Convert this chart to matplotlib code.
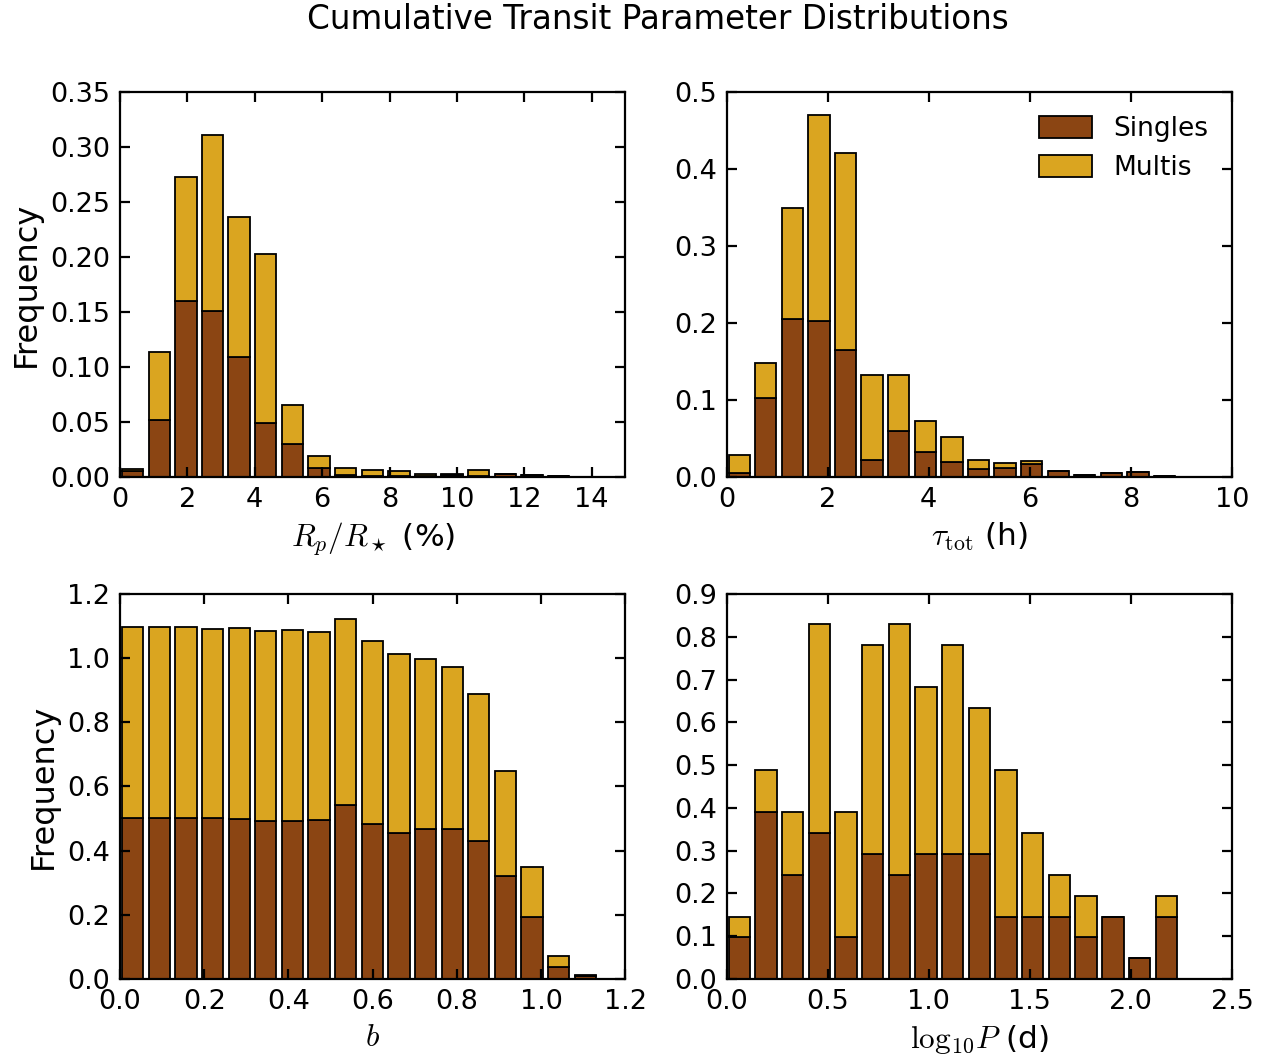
import numpy as np
import matplotlib
matplotlib.use('Agg')
import matplotlib.pyplot as plt

plt.rcParams.update({
    'font.family': 'DejaVu Sans',
    'mathtext.fontset': 'cm',
    'font.size': 19,
    'axes.linewidth': 1.6,
    'xtick.direction': 'in', 'ytick.direction': 'in',
    'xtick.top': True, 'ytick.right': True,
    'xtick.major.size': 7, 'ytick.major.size': 7,
    'xtick.major.width': 1.6, 'ytick.major.width': 1.6,
    'xtick.major.pad': 7, 'ytick.major.pad': 7,
    'xtick.labelsize': 19.5, 'ytick.labelsize': 19.5,
})

SINGLE_C = '#8B4513'
MULTI_C = '#DAA520'

# planet-to-star radius ratio (%) -- stacked frequencies per bin
rp_singles = [0.005, 0.052, 0.160, 0.151, 0.109, 0.049, 0.030, 0.0085, 0.002,
              0.001, 0.001, 0.001, 0.002, 0.001, 0.003, 0.0015, 0.0005]
rp_total = [0.007, 0.114, 0.273, 0.311, 0.236, 0.203, 0.065, 0.019, 0.008,
            0.006, 0.0055, 0.003, 0.0025, 0.0067, 0.003, 0.0015, 0.0005]

# total transit duration (h)
tau_singles = [0.005, 0.103, 0.205, 0.203, 0.165, 0.022, 0.060, 0.0325, 0.0195,
               0.0108, 0.012, 0.0165, 0.0075, 0.0026, 0.0048, 0.0065, 0.0017]
tau_total = [0.029, 0.148, 0.349, 0.470, 0.421, 0.132, 0.132, 0.073, 0.052,
             0.022, 0.018, 0.021, 0.0078, 0.0026, 0.0048, 0.0069, 0.0017]

# impact parameter
b_singles = [0.502, 0.503, 0.503, 0.502, 0.500, 0.494, 0.494, 0.496, 0.541,
             0.482, 0.455, 0.469, 0.469, 0.430, 0.322, 0.193, 0.038, 0.010]
b_total = [1.098, 1.096, 1.096, 1.091, 1.094, 1.085, 1.087, 1.083, 1.122,
           1.053, 1.014, 0.997, 0.972, 0.888, 0.649, 0.350, 0.072, 0.011]

# log10 orbital period (d)
logp_singles = [0.098, 0.390, 0.244, 0.341, 0.098, 0.293, 0.244, 0.293, 0.293,
                0.293, 0.146, 0.146, 0.146, 0.098, 0.146, 0.049, 0.146]
logp_total = [0.146, 0.488, 0.390, 0.830, 0.390, 0.781, 0.830, 0.683, 0.781,
              0.634, 0.488, 0.341, 0.244, 0.195, 0.146, 0.049, 0.195]

# (first bin edge, bin width) for each histogram
panels = [
    dict(singles=rp_singles, total=rp_total, start=0.06, width=0.79,
         xlim=(0, 15), ylim=(0, 0.35), xticks=np.arange(0, 15, 2),
         yticks=np.arange(0, 0.36, 0.05), yfmt='%.2f', xfmt='%d',
         xlabel=r'$R_p/R_\star$ (%)'),
    dict(singles=tau_singles, total=tau_total, start=0.04, width=0.526,
         xlim=(0, 10), ylim=(0, 0.5), xticks=np.arange(0, 11, 2),
         yticks=np.arange(0, 0.51, 0.1), yfmt='%.1f', xfmt='%d',
         xlabel=r'$\tau_{\rm tot}$ (h)'),
    dict(singles=b_singles, total=b_total, start=0.005, width=0.0632,
         xlim=(0, 1.2), ylim=(0, 1.2), xticks=np.arange(0, 1.21, 0.2),
         yticks=np.arange(0, 1.21, 0.2), yfmt='%.1f', xfmt='%.1f',
         xlabel=r'$b$'),
    dict(singles=logp_singles, total=logp_total, start=0.01, width=0.132,
         xlim=(0, 2.5), ylim=(0, 0.9), xticks=np.arange(0, 2.51, 0.5),
         yticks=np.arange(0, 0.91, 0.1), yfmt='%.1f', xfmt='%.1f',
         xlabel=r'$\mathrm{log}_{10}P$ (d)'),
]

fig, axes = plt.subplots(2, 2, figsize=(12.71, 10.57), dpi=100)
fig.subplots_adjust(left=0.0944, right=0.9693, top=0.913, bottom=0.0738,
                    wspace=0.2, hspace=0.304)

for i, (ax, p) in enumerate(zip(axes.flat, panels)):
    singles = np.array(p['singles'])
    multis = np.array(p['total']) - singles
    left = p['start'] + p['width'] * np.arange(len(singles))
    ax.bar(left, singles, width=0.8 * p['width'], align='edge',
           color=SINGLE_C, edgecolor='black', linewidth=1.3, label='Singles')
    ax.bar(left, multis, width=0.8 * p['width'], bottom=singles, align='edge',
           color=MULTI_C, edgecolor='black', linewidth=1.3, label='Multis')
    ax.set_xlim(p['xlim'])
    ax.set_ylim(p['ylim'])
    ax.set_xticks(p['xticks'])
    ax.set_yticks(p['yticks'])
    ax.set_xticklabels([p['xfmt'] % v for v in p['xticks']])
    ax.set_yticklabels([p['yfmt'] % v for v in p['yticks']])
    ax.set_xlabel(p['xlabel'], fontsize=22.5, labelpad=6)
    if i % 2 == 0:
        ax.set_ylabel('Frequency', fontsize=23, labelpad=6)

axes[0, 1].legend(loc='upper right', frameon=False, fontsize=19,
                  handlelength=2.0, handleheight=0.9, borderaxespad=0.5)

fig.suptitle('Cumulative Transit Parameter Distributions', fontsize=23.5,
             x=0.5175, y=0.997)

fig.savefig('out.png', dpi=100)
